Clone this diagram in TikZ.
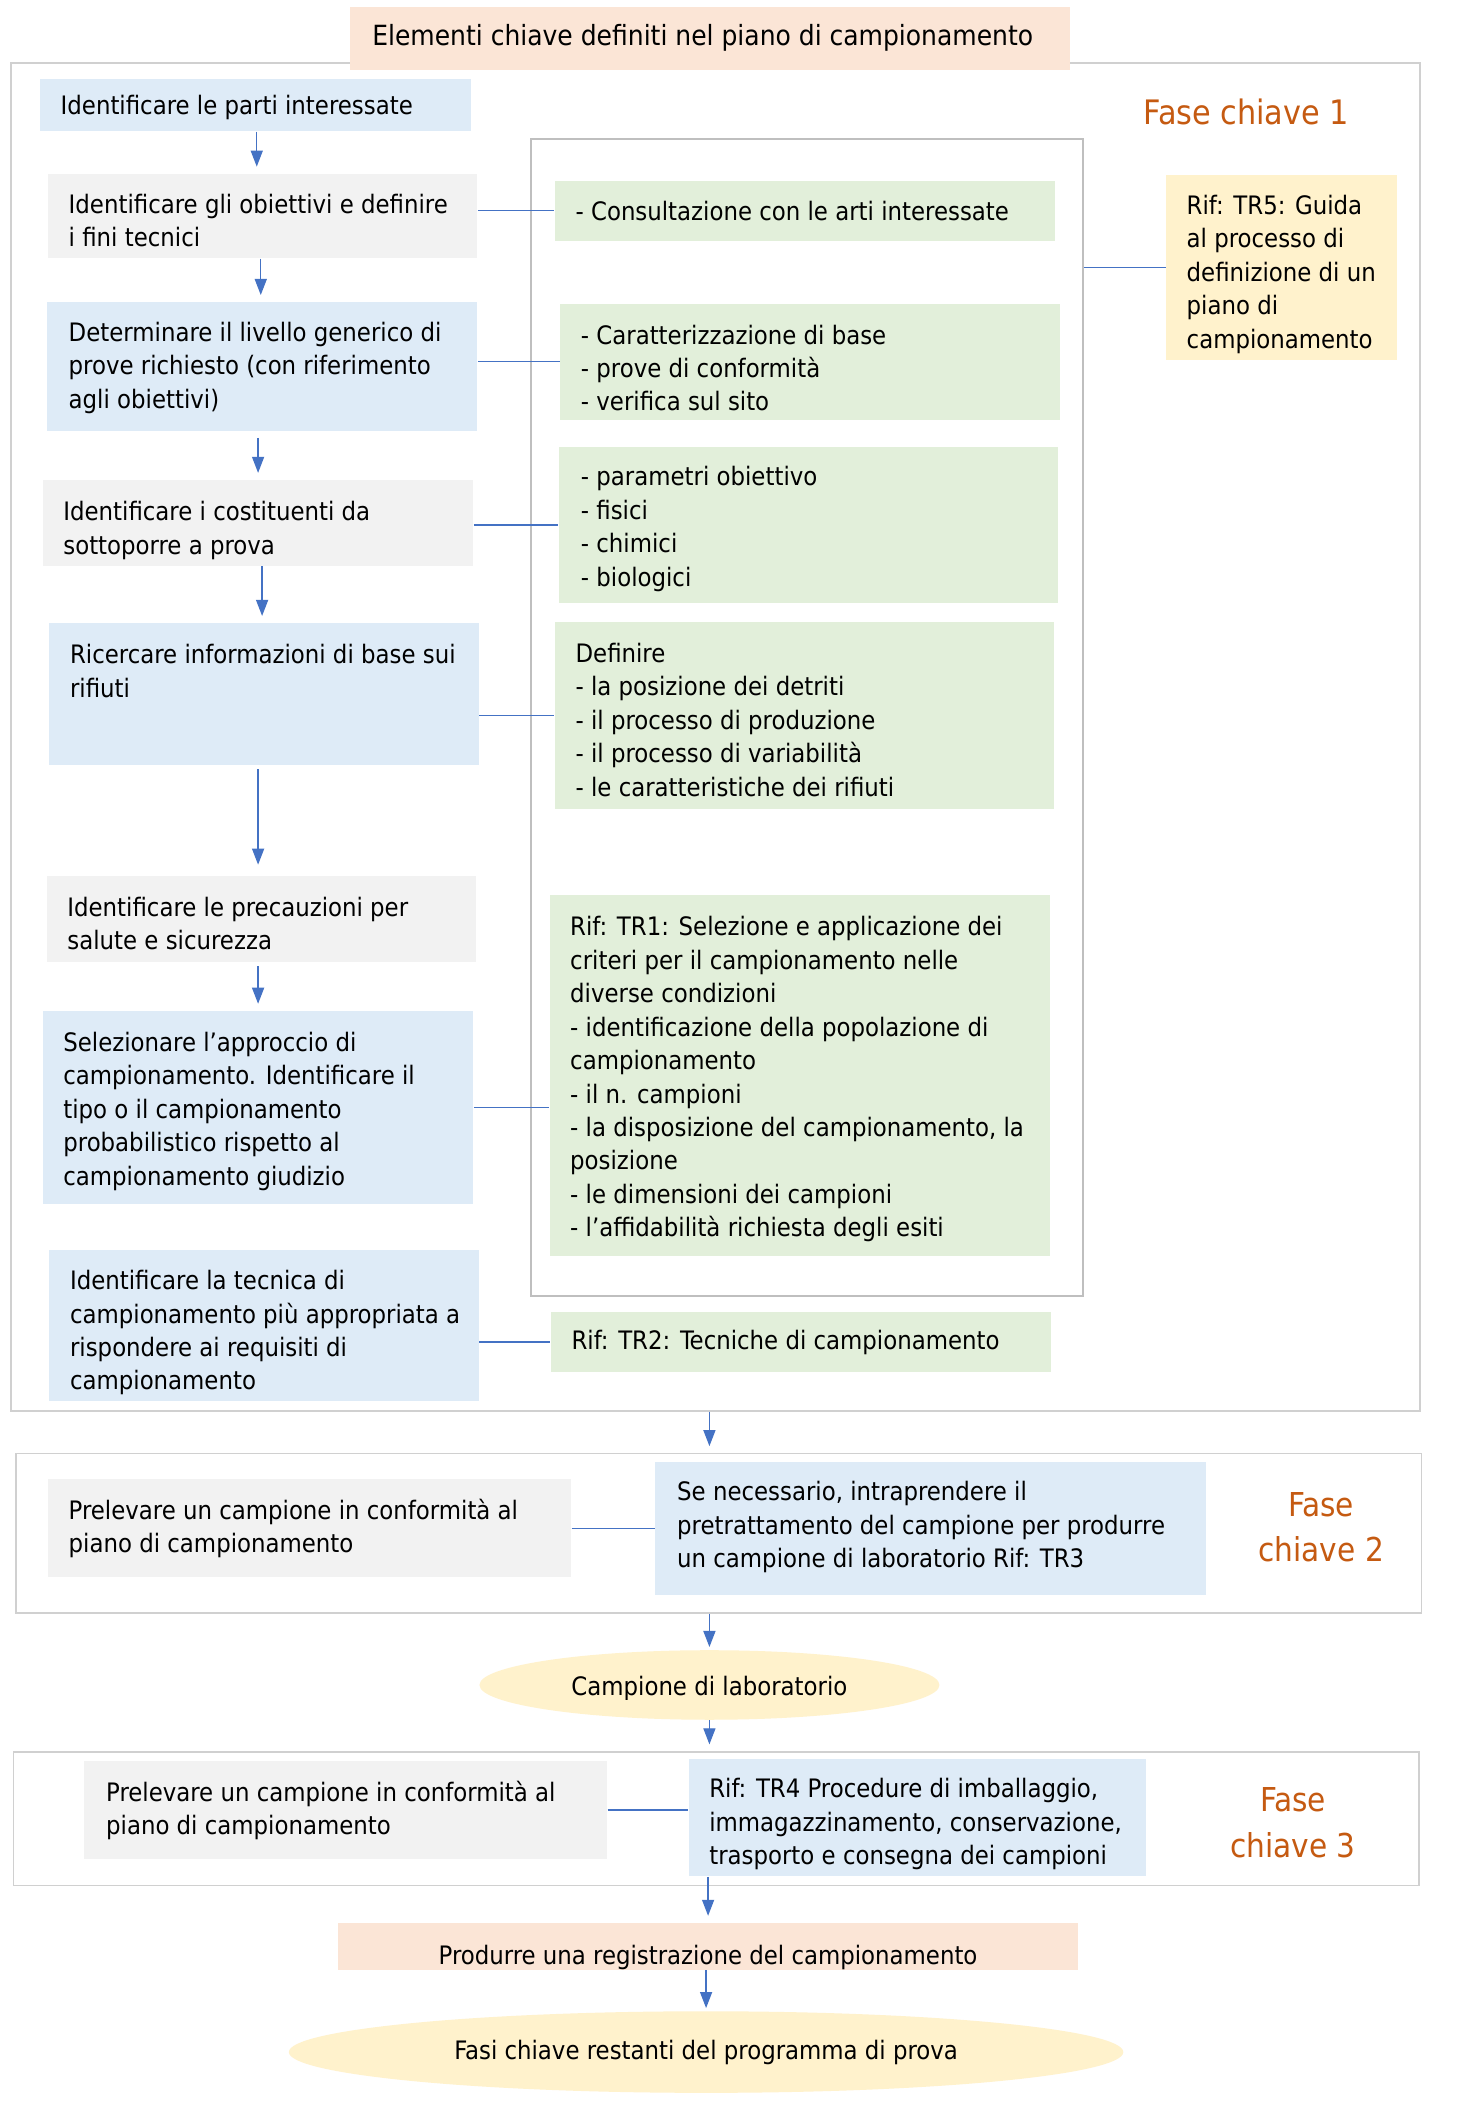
\documentclass[tikz,border=0pt]{standalone}
\usepackage{fontspec}
\IfFontExistsTF{DejaVu Sans Condensed}{\setmainfont{DejaVu Sans Condensed}}{\setmainfont{DejaVu Sans}[Scale=0.9]}
\usetikzlibrary{fit,arrows.meta,shapes.geometric}
\definecolor{bluefill}{HTML}{DEEBF7}
\definecolor{grayfill}{HTML}{F2F2F2}
\definecolor{greenfill}{HTML}{E2EFDA}
\definecolor{yellowfill}{HTML}{FFF2CC}
\definecolor{peachfill}{HTML}{FBE5D6}
\definecolor{orangetxt}{HTML}{C55A11}
\definecolor{connblue}{HTML}{4472C4}
\definecolor{framegray}{HTML}{D0D0D0}
\definecolor{innergray}{HTML}{BFBFBF}
\newcommand\myBody{\fontsize{9.5}{12.5}\selectfont}
\tikzset{
  boxbase/.style={inner sep=0pt, draw=none},
  bluebox/.style={boxbase, fill=bluefill},
  graybox/.style={boxbase, fill=grayfill},
  greenbox/.style={boxbase, fill=greenfill},
  yellowbox/.style={boxbase, fill=yellowfill},
  peachbox/.style={boxbase, fill=peachfill},
  outerframe/.style={inner sep=0pt, draw=framegray, line width=0.6pt},
  innerframe/.style={inner sep=0pt, draw=innergray, line width=0.6pt},
  txt/.style={font=\myBody, align=left, inner sep=0pt, anchor=north west},
  txtw/.style={font=\myBody, align=left, inner sep=0pt, anchor=west},
  fase/.style={font=\fontsize{12.3}{17}\selectfont, text=orangetxt, align=center, inner sep=0pt},
  conn/.style={draw=connblue, line width=0.5pt},
  arr/.style={conn, -{Triangle[length=6pt,width=4.5pt]}, shorten >=2.5pt},
  oval/.style={ellipse, fill=yellowfill, draw=none, inner sep=0pt, font=\myBody}
}
\begin{document}
\begin{tikzpicture}[x=0.5pt,y=-0.5pt]
\useasboundingbox (0,0) rectangle (1100,1572.6);
\fill[white] (0,0) rectangle (1100,1572.6);

% frames
\node[outerframe, fit={(8,47)(1062,1055)}] (f1) {};
\node[outerframe, fit={(12,1087)(1063,1206)}] (f2) {};
\node[outerframe, fit={(10,1310)(1061,1410)}] (f3) {};
\node[innerframe, fit={(397,104)(810,969)}] (fi) {};

% title
\node[peachbox, fit={(262,5)(800,52)}] (title) {};
\node[txtw, font=\fontsize{10.4}{13}\selectfont] (titlet) at (278,28) {Elementi chiave definiti nel piano di campionamento};

\node[fase, font=\fontsize{12.6}{15}\selectfont] (k1) at (932,84) {Fase chiave 1};

% left column
\node[bluebox, fit={(30,59)(352,98)}] (a1) {};
\node[txtw] (a1t) at (45,80.5) {Identificare le parti interessate};
\node[graybox, fit={(36,130)(357,193)}] (a2) {};
\node[txt] (a2t) at (51,144.5) {Identificare gli obiettivi e definire\\i fini tecnici};
\node[bluebox, fit={(35,226)(357,322)}] (a3) {};
\node[txt] (a3t) at (51,240.5) {Determinare il livello generico di\\prove richiesto (con riferimento\\agli obiettivi)};
\node[graybox, fit={(32,359)(354,423)}] (a4) {};
\node[txt] (a4t) at (47,374.5) {Identificare i costituenti da\\sottoporre a prova};
\node[bluebox, fit={(37,466)(358,572)}] (a5) {};
\node[txt] (a5t) at (52,481.5) {Ricercare informazioni di base sui\\rifiuti};
\node[graybox, fit={(35,655)(356,719)}] (a6) {};
\node[txt] (a6t) at (50,670.5) {Identificare le precauzioni per\\salute e sicurezza};
\node[bluebox, fit={(32,756)(354,900)}] (a7) {};
\node[txt] (a7t) at (47,771.5) {Selezionare l’approccio di\\campionamento. Identificare il\\tipo o il campionamento\\probabilistico rispetto al\\campionamento giudizio};
\node[bluebox, fit={(37,935)(358,1048)}] (a8) {};
\node[txt] (a8t) at (52,949.5) {Identificare la tecnica di\\campionamento più appropriata a\\rispondere ai requisiti di\\campionamento};

% green column
\node[greenbox, fit={(415,135)(789,180)}] (g1) {};
\node[txtw] (g1t) at (430,158) {- Consultazione con le arti interessate};
\node[greenbox, fit={(419,227)(793,314)}] (g2) {};
\node[txt] (g2t) at (434,242.5) {- Caratterizzazione di base\\- prove di conformità\\- verifica sul sito};
\node[greenbox, fit={(418,334)(791,451)}] (g3) {};
\node[txt] (g3t) at (434,348.5) {- parametri obiettivo\\- fisici\\- chimici\\- biologici};
\node[greenbox, fit={(415,465)(788,605)}] (g4) {};
\node[txt] (g4t) at (430,480.5) {Definire\\- la posizione dei detriti\\- il processo di produzione\\- il processo di variabilità\\- le caratteristiche dei rifiuti};
\node[greenbox, fit={(411,669)(785,939)}] (g5) {};
\node[txt] (g5t) at (426,685) {Rif: TR1: Selezione e applicazione dei\\criteri per il campionamento nelle\\diverse condizioni\\- identificazione della popolazione di\\campionamento\\- il n. campioni\\- la disposizione del campionamento, la\\posizione\\- le dimensioni dei campioni\\- l’affidabilità richiesta degli esiti};
\node[greenbox, fit={(412,981)(786,1026)}] (g6) {};
\node[txtw] (g6t) at (427,1004) {Rif: TR2: Tecniche di campionamento};

% yellow reference
\node[yellowbox, fit={(872,131)(1045,269)}] (y1) {};
\node[txt] (y1t) at (887,145.5) {Rif: TR5: Guida\\al processo di\\definizione di un\\piano di\\campionamento};

% phase 2
\node[graybox, fit={(36,1106)(427,1179)}] (b1) {};
\node[txt] (b1t) at (51,1120.5) {Prelevare un campione in conformità al\\piano di campionamento};
\node[bluebox, fit={(490,1093)(902,1193)}] (b2) {};
\node[txt] (b2t) at (506,1107.5) {Se necessario, intraprendere il\\pretrattamento del campione per produrre\\un campione di laboratorio Rif: TR3};
\node[fase] (k2) at (988,1142) {Fase\\chiave 2};

% lab sample
\node[oval, minimum width=172pt, minimum height=26pt] (e1) at (530.5,1260) {};
\begin{scope}
\clip (358,1230) rectangle (703,1271);
\node[font=\myBody, inner sep=0pt, anchor=base] (e1t) at (530.5,1268) {Campione di laboratorio};
\end{scope}

% phase 3
\node[graybox, fit={(63,1317)(454,1390)}] (c1) {};
\node[txt] (c1t) at (79,1331.5) {Prelevare un campione in conformità al\\piano di campionamento};
\node[bluebox, fit={(515,1315)(857,1403)}] (c2) {};
\node[txt] (c2t) at (530,1329.5) {Rif: TR4 Procedure di imballaggio,\\immagazzinamento, conservazione,\\trasporto e consegna dei campioni};
\node[fase] (k3) at (967,1363) {Fase\\chiave 3};

% record
\node[peachbox, fit={(253,1438)(806,1473)}] (p2) {};
\begin{scope}
\clip (p2.south west) rectangle (p2.north east);
\node[font=\myBody, inner sep=0pt, anchor=base] (p2t) at (529.5,1469) {Produrre una registrazione del campionamento};
\end{scope}

\node[oval, minimum width=312pt, minimum height=30.5pt] (e2) at (528,1534.5) {Fasi chiave restanti del programma di prova};

% vertical arrows
\draw[arr] (a1.south -| 192,0) -- (a2.north -| 192,0);
\draw[arr] (a2.south -| 195,0) -- (a3.north -| 195,0);
\draw[arr, shorten <=2.5pt] (a3.south -| 193,0) -- (a4.north -| 193,0);
\draw[arr] (a4.south -| 196,0) -- (a5.north -| 196,0);
\draw[arr, shorten <=1.5pt, shorten >=4pt] (a5.south -| 193,0) -- (a6.north -| 193,0);
\draw[arr, shorten <=1.5pt] (a6.south -| 193,0) -- (a7.north -| 193,0);
\draw[arr] (f1.south -| e1.north) -- (f2.north -| e1.north);
\draw[arr, shorten >=1pt] (f2.south -| e1.north) -- (e1.north);
\draw[arr] (e1.south) -- (f3.north -| e1.south);
\draw[arr] (c2.south -| p2.north) -- (p2.north);
\draw[arr, shorten >=1pt] (p2.south -| e2.north) -- (e2.north);

% horizontal connectors
\draw[conn] (a2.east |- g1.west) -- (g1.west);
\draw[conn] (a3.east |- g2.west) -- (g2.west);
\draw[conn] (a4.east |- g3.west) -- (g3.west);
\draw[conn] (a5.east |- g4.west) -- (g4.west);
\draw[conn] (a7.east) -- (a7.east -| g5.west);
\draw[conn] (a8.east |- g6.west) -- (g6.west);
\draw[conn] (fi.east |- y1.west) -- (y1.west);
\draw[conn] (b1.east |- b2.west) -- (b2.west);
\draw[conn] (c1.east) -- (c1.east -| c2.west);
\end{tikzpicture}
\end{document}
